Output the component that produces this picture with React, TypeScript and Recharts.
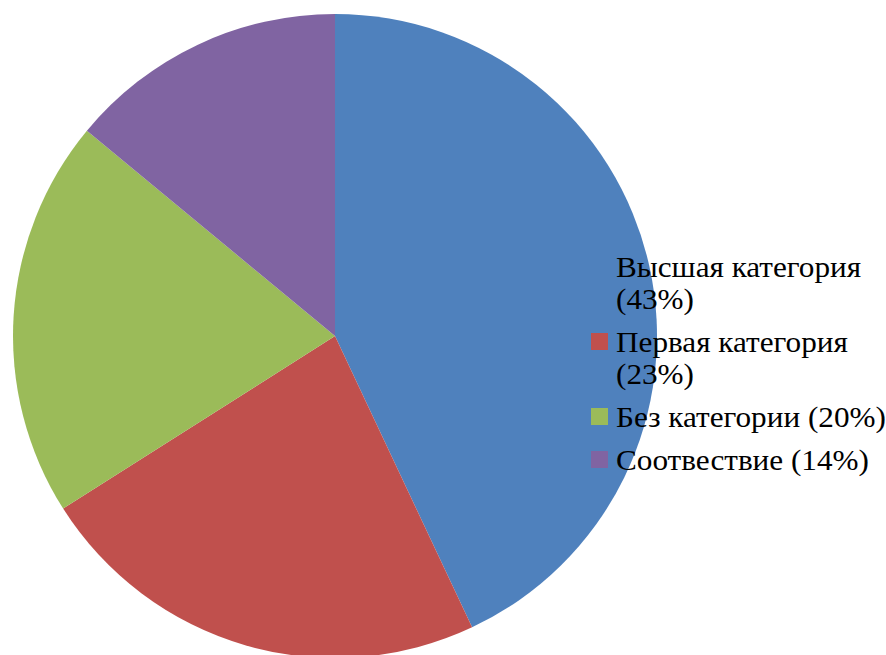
import React from "react";
import { PieChart, Pie, Cell } from "recharts";

// ── Data ─────────────────────────────────────────────────────────────────────

const categories = [
  "Высшая категория",
  "Первая категория",
  "Без категории",
  "Соотвествие",
];
const shares = [43, 23, 20, 14];
const colors = ["#4F81BD", "#C0504D", "#9BBB59", "#8064A2"];

const data = categories.map((name, i) => ({
  name: `${name} (${shares[i]}%)`,
  value: shares[i],
  color: colors[i],
}));

const serif = '"Liberation Serif", Tinos, "DejaVu Serif", serif';
const stretch = 1.04;

// ── Legend (html overlay on the right) ───────────────────────────────────────

function PieLegend() {
  return (
    <div
      style={{
        position: "absolute",
        left: 591,
        top: 251,
        display: "flex",
        flexDirection: "column",
        gap: 11,
        fontFamily: serif,
      }}
    >
      {data.map((item, idx) => (
        <div key={idx} style={{ display: "flex", alignItems: "flex-start" }}>
          <div
            style={{
              width: 17,
              height: 17,
              marginTop: 7,
              marginRight: 8,
              flexShrink: 0,
              backgroundColor: item.color,
            }}
          />
          <div
            style={{
              fontFamily: serif,
              fontSize: 30,
              lineHeight: "32px",
              color: "#000",
              width: 264,
              transform: `scaleX(${stretch})`,
              transformOrigin: "left top",
            }}
          >
            {item.name}
          </div>
        </div>
      ))}
    </div>
  );
}

export default function App() {
  return (
    <div
      style={{
        position: "absolute",
        left: 0,
        top: 0,
        width: 886,
        height: 655,
        background: "#fff",
        overflow: "hidden",
        fontFamily: serif,
      }}
    >
      <PieChart width={886} height={655} margin={{ top: 0, right: 0, bottom: 0, left: 0 }}>
        <Pie
          data={data}
          dataKey="value"
          cx={335}
          cy={336}
          outerRadius={322}
          startAngle={90}
          endAngle={-270}
          stroke="none"
          isAnimationActive={false}
        >
          {data.map((entry, index) => (
            <Cell key={`cell-${index}`} fill={entry.color} />
          ))}
        </Pie>
      </PieChart>
      <PieLegend />
    </div>
  );
}
